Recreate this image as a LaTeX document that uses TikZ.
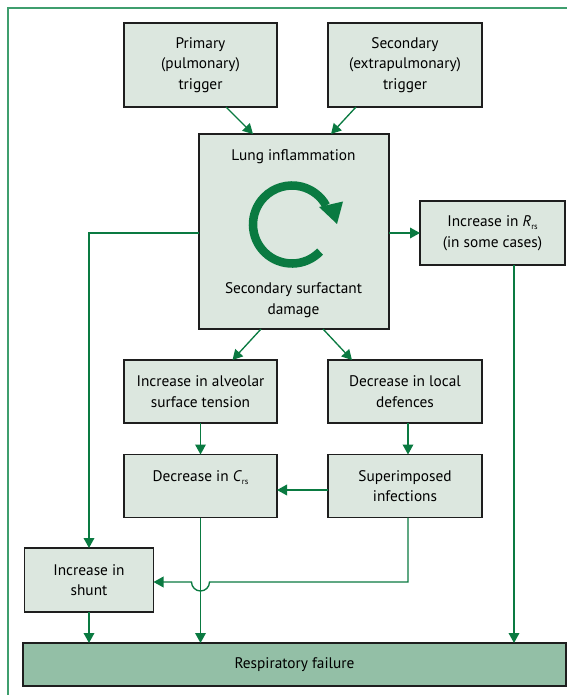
\documentclass[tikz,border=0pt]{standalone}
\usepackage{fontspec}
\setmainfont{PT Sans}
\usetikzlibrary{arrows.meta,calc}
\definecolor{boxfill}{HTML}{DCE7DF}
\definecolor{arrgreen}{HTML}{0A7A41}
\definecolor{barfill}{HTML}{93BFA6}
\definecolor{framegreen}{HTML}{3F9E6E}
\definecolor{boxline}{HTML}{1E1E1E}
\newcommand{\lowsub}[1]{\raisebox{-0.45ex}{\fontsize{6.3}{6.3}\selectfont #1}}
\begin{document}
\begin{tikzpicture}[x=0.75pt,y=-0.75pt,
 box/.style={draw=boxline,line width=1.1pt,fill=boxfill,inner sep=0pt,outer sep=0pt,align=center,font=\fontsize{11.5}{15.5}\selectfont},
 bw/.style={minimum width=#1*0.75pt},
 bh/.style={minimum height=#1*0.75pt},
 arr/.style={draw=arrgreen,line width=1pt,-{Triangle[length=7.5pt,width=8pt]}},
 txt/.style={inner sep=0pt,align=center,font=\fontsize{11.5}{15.5}\selectfont}]
\useasboundingbox (0,0) rectangle (567,695);
\draw[framegreen,line width=0.9pt] (8,695) -- (8,8) -- (567,8);
% boxes
\node[box,bw=153,bh=84] (prim) at (200.5,65) {Primary\\(pulmonary)\\trigger};
\node[box,bw=154,bh=84] (sec) at (405,65) {Secondary\\(extrapulmonary)\\trigger};
\node[box,bw=190,bh=195] (lung) at (294,231.5) {};
\node[txt] (lungt) at (293.5,157) {Lung inflammation};
\node[txt] (lungb) at (293.5,300) {Secondary surfactant\\damage};
\node[box,bw=145,bh=64] (rrs) at (492.5,233) {Increase in \textit{R}\lowsub{rs}\\(in some cases)};
\node[box,bw=153,bh=63] (alv) at (200.5,391.5) {Increase in alveolar\\surface tension};
\node[box,bw=154,bh=63] (loc) at (405,391.5) {Decrease in local\\defences};
\node[box,bw=153,bh=63] (crs) at (200.5,486) {Decrease in \textit{C}\lowsub{rs}\\\mbox{}};
\node[box,bw=154,bh=63] (sup) at (405,486) {Superimposed\\infections};
\node[box,bw=129,bh=64] (shunt) at (89,580) {Increase in\\shunt};
\node[box,fill=barfill,bw=543,bh=43] (resp) at (294.5,664.5) {Respiratory failure};
% circular arrow
\coordinate (cc) at (292,224.5);
\draw[arrgreen,line width=6.4pt] ($(cc)+(44:39)$) arc[start angle=44,end angle=331,radius=39];
\fill[arrgreen] (319,207) -- (343,201.5) -- (337,224) -- cycle;
% connectors
\draw[arr] ($(prim.south)+(25.5,0)$) -- ($(lung.north)+(-41,0)$);
\draw[arr] ($(sec.south)+(-49,0)$) -- ($(lung.north)+(37,0)$);
\draw[arr] (lung.east |- rrs.west) -- (rrs.west);
\draw[arr] (lung.west |- rrs.west) -| (shunt.north);
\draw[arr] ($(lung.south)+(-33,0)$) -- ($(alv.north)+(32,0)$);
\draw[arr] ($(lung.south)+(29,0)$) -- ($(loc.north)+(-53,0)$);
\draw[arr] (alv.south) -- (crs.north);
\draw[arr] ($(loc.south)+(3,0)$) -- ($(sup.north)+(3,0)$);
\draw[arr] ($(sup.west)+(0,4)$) -- ($(crs.east)+(0,4)$);
\draw[arr] (crs.south) -- (crs.south |- resp.north);
\draw[arr] (shunt.south) -- (shunt.south |- resp.north);
\coordinate (rrsd) at ($(rrs.south)+(21.5,0)$);
\draw[arr] (rrsd) -- (rrsd |- resp.north);
\coordinate (supd) at ($(sup.south)+(3,0)$);
\coordinate (hy) at ($(shunt.east)+(0,2)$);
\draw[arr] (supd) |- ($(crs.south |- hy)+(9,0)$) arc[start angle=0,end angle=180,radius=9] -- (hy);
\end{tikzpicture}
\end{document}
